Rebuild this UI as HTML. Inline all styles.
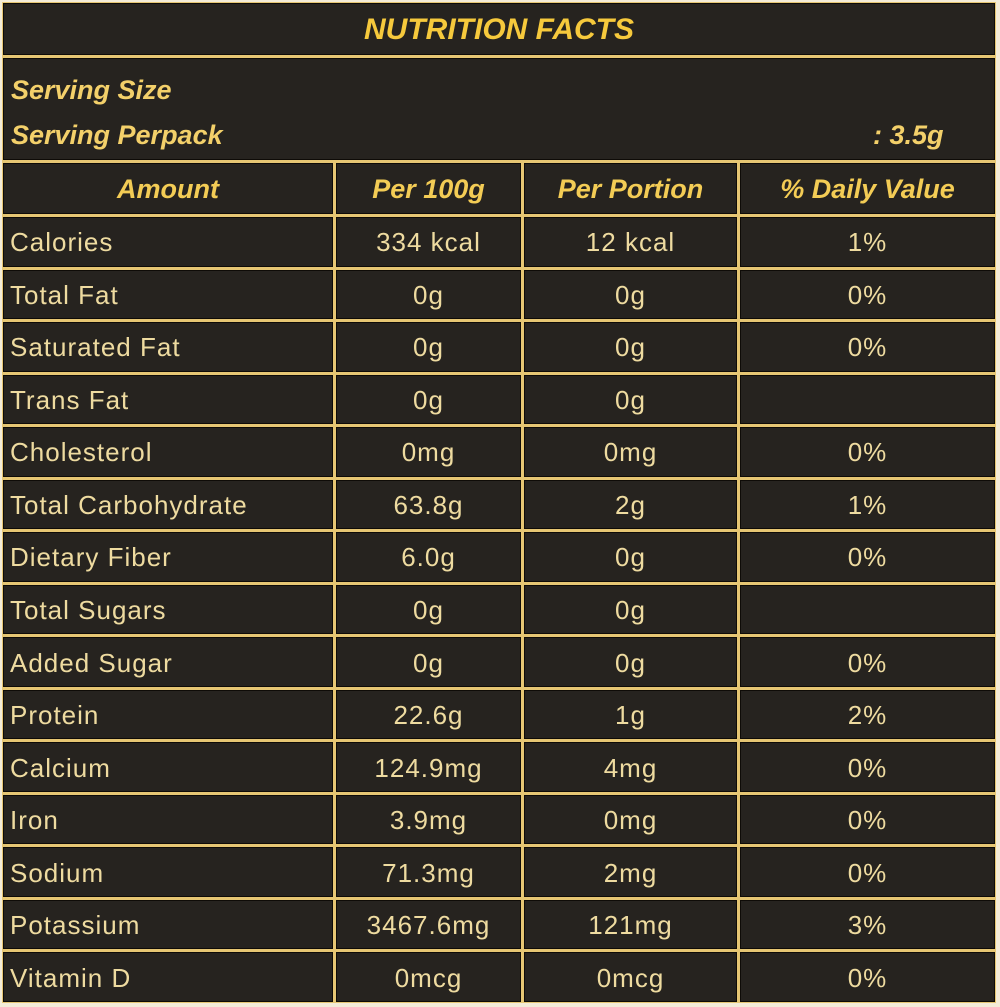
<!DOCTYPE html>
<html><head><style>
html,body{margin:0;padding:0;background:#f4ecd8;width:1000px;height:1007px;overflow:hidden}
.g{position:absolute;left:2px;top:2px;width:994px;height:1001px;background:#e6c673;padding:1px;box-sizing:border-box;display:grid;gap:3px;
grid-template-columns:330px 185px 213px 1fr;
grid-template-rows:52px 102px 51px repeat(15,1fr);}
.g>div{background:#26231f;box-shadow:inset 0 0 0 1px #0e0b07;color:#eedba0;font-family:"Liberation Sans",sans-serif;font-size:26px;letter-spacing:1px;display:flex;align-items:center;justify-content:center;padding-top:2px;box-sizing:border-box}
.g>div.l{justify-content:flex-start;padding-left:7px}
.t{grid-column:1/5;color:#f6c93c!important;font-weight:bold;font-style:italic;font-size:30px!important;letter-spacing:0!important}
.s{grid-column:1/5;display:block!important;position:relative;color:#f3d06a!important;font-weight:bold;font-style:italic;letter-spacing:0!important;font-size:27px!important}
.s span{position:absolute}
.h{color:#f3cc55!important;font-weight:bold;font-style:italic;letter-spacing:0!important;font-size:27px!important}
</style></head><body>
<div class="g">
<div class="t">NUTRITION FACTS</div>
<div class="s"><span style="left:8px;top:17px">Serving Size</span><span style="left:8px;top:62px">Serving Perpack</span><span style="left:870px;top:62px">: 3.5g</span></div>
<div class="h">Amount</div><div class="h">Per 100g</div><div class="h">Per Portion</div><div class="h">% Daily Value</div>
<div class="l">Calories</div><div>334 kcal</div><div>12 kcal</div><div>1%</div>
<div class="l">Total Fat</div><div>0g</div><div>0g</div><div>0%</div>
<div class="l">Saturated Fat</div><div>0g</div><div>0g</div><div>0%</div>
<div class="l">Trans Fat</div><div>0g</div><div>0g</div><div></div>
<div class="l">Cholesterol</div><div>0mg</div><div>0mg</div><div>0%</div>
<div class="l">Total Carbohydrate</div><div>63.8g</div><div>2g</div><div>1%</div>
<div class="l">Dietary Fiber</div><div>6.0g</div><div>0g</div><div>0%</div>
<div class="l">Total Sugars</div><div>0g</div><div>0g</div><div></div>
<div class="l">Added Sugar</div><div>0g</div><div>0g</div><div>0%</div>
<div class="l">Protein</div><div>22.6g</div><div>1g</div><div>2%</div>
<div class="l">Calcium</div><div>124.9mg</div><div>4mg</div><div>0%</div>
<div class="l">Iron</div><div>3.9mg</div><div>0mg</div><div>0%</div>
<div class="l">Sodium</div><div>71.3mg</div><div>2mg</div><div>0%</div>
<div class="l">Potassium</div><div>3467.6mg</div><div>121mg</div><div>3%</div>
<div class="l">Vitamin D</div><div>0mcg</div><div>0mcg</div><div>0%</div>
</div>
</body></html>
